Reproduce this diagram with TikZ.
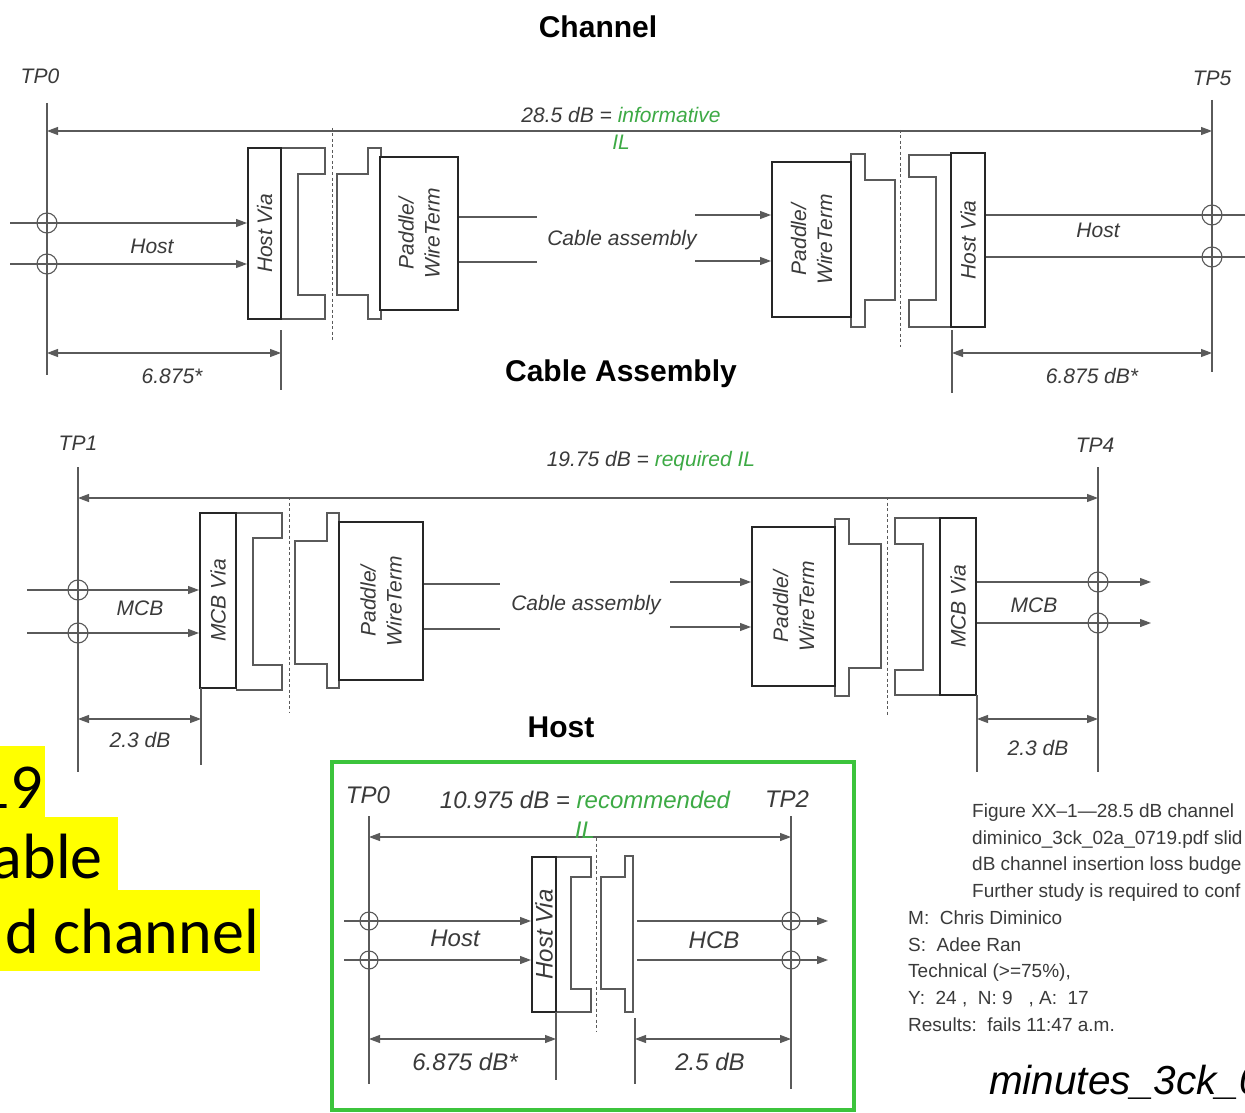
\documentclass[tikz,border=0pt]{standalone}
\usepackage{fontspec}
\setmainfont{Liberation Sans}
\newfontfamily\carlitofont{Carlito}
\usetikzlibrary{arrows.meta}
\definecolor{lc}{HTML}{5A5A5A}
\definecolor{bc}{HTML}{262626}
\definecolor{tc}{HTML}{3A3A3A}
\definecolor{gc}{HTML}{3DAA45}
\definecolor{gbox}{HTML}{3CC43C}
\definecolor{hl}{HTML}{FFFF00}
\begin{document}
\begin{tikzpicture}[x=1pt,y=-1pt,
  ln/.style={draw=lc,line width=1.1pt},
  arr/.style={ln,-{Triangle[length=11pt,width=8pt]}},
  dimarr/.style={ln,{Triangle[length=11pt,width=8pt]}-{Triangle[length=11pt,width=8pt]}},
  dsh/.style={draw=lc,line width=1pt,dash pattern=on 3pt off 2.5pt},
  box/.style={draw=bc,line width=2pt,inner sep=0,fill=white},
  conn/.style={draw=lc,line width=1.1pt},
  lab/.style={font=\fontsize{21}{26}\selectfont\itshape,text=tc,inner sep=0},
  labb/.style={font=\fontsize{24}{28}\selectfont\itshape,text=tc,inner sep=0},
  ttl/.style={font=\fontsize{30}{34}\selectfont\bfseries,text=black,inner sep=0},
  note/.style={font=\fontsize{19}{22}\selectfont,text=tc,inner sep=0,anchor=base west},
  big/.style={font=\carlitofont\fontsize{64}{70}\selectfont,text=black,inner sep=0,anchor=base east},
]
\useasboundingbox (0,0) rectangle (1245,1113);
\fill[white] (0,0) rectangle (1245,1113);

% ================= Section 1: Channel =================
\node[ttl] (t1) at (598,27) {Channel};
\node[lab] (tp0a) at (40,76) {TP0};
\node[lab] (tp5a) at (1212,78) {TP5};
\coordinate (tp0top) at (47,103); \coordinate (tp0bot) at (47,375);
\coordinate (tp5top) at (1212,100); \coordinate (tp5bot) at (1212,372);
\draw[ln] (tp0top) -- (tp0bot);
\draw[ln] (tp5top) -- (tp5bot);
\coordinate (c1l) at (47,131); \coordinate (c1r) at (1212,131);
\draw[dimarr] (c1l) -- (c1r);
\node[lab] (il1) at (621,115) {28.5 dB = \textcolor{gc}{informative}};
\node[lab,text=gc] (il1b) at (621,142) {IL};
\draw[dsh] (332,128) -- (332,342);
\draw[dsh] (900,130) -- (900,347);
% left host via + connectors
\draw[conn] (281,148) -- (325,148) -- (325,174) -- (298,174) -- (298,295) -- (325,295) -- (325,319) -- (281,319);
\draw[conn] (381,157) -- (381,148) -- (368,148) -- (368,174) -- (337,174) -- (337,295) -- (368,295) -- (368,319) -- (381,319) -- (381,310);
\node[box,minimum width=33,minimum height=171] (hv1) at (264.5,233.5) {};
\node[lab,rotate=90] (hv1t) at (hv1) {Host Via};
\node[box,minimum width=78,minimum height=153] (pw1) at (419,233.5) {};
\node[lab,rotate=90,align=center] (pw1t) at (pw1) {Paddle/\\WireTerm};
% host lines left
\coordinate (h1a) at (10,223); \coordinate (h1b) at (10,264);
\draw[arr] (h1a) -- (h1a -| hv1.west);
\draw[arr] (h1b) -- (h1b -| hv1.west);
\draw[ln] (47,223) circle[radius=10];
\draw[ln] (47,264) circle[radius=10];
\node[lab] (host1) at (152,246) {Host};
\coordinate (p1a) at (537,217); \coordinate (p1b) at (537,262);
\draw[ln] (p1a -| pw1.east) -- (p1a);
\draw[ln] (p1b -| pw1.east) -- (p1b);
\node[lab] (ca1) at (622,240) {Cable assembly};
% right side
\draw[conn] (851,162) -- (851,154) -- (865,154) -- (865,180) -- (895,180) -- (895,300) -- (865,300) -- (865,327) -- (851,327) -- (851,317);
\draw[conn] (951,155) -- (909,155) -- (909,177) -- (936,177) -- (936,300) -- (909,300) -- (909,327) -- (951,327);
\node[box,minimum width=79,minimum height=155] (pw2) at (811.5,239.5) {};
\node[lab,rotate=90,align=center] (pw2t) at (pw2) {Paddle/\\WireTerm};
\node[box,minimum width=34,minimum height=174] (hv2) at (968,240) {};
\node[lab,rotate=90] (hv2t) at (hv2) {Host Via};
\coordinate (q1a) at (695,215); \coordinate (q1b) at (695,261);
\draw[arr] (q1a) -- (q1a -| pw2.west);
\draw[arr] (q1b) -- (q1b -| pw2.west);
\coordinate (r1a) at (1245,215); \coordinate (r1b) at (1245,257);
\draw[ln] (r1a -| hv2.east) -- (r1a);
\draw[ln] (r1b -| hv2.east) -- (r1b);
\draw[ln] (1212,215) circle[radius=10];
\draw[ln] (1212,257) circle[radius=10];
\node[lab] (host2) at (1098,230) {Host};
% dimensions
\draw[ln] (281,330) -- (281,390);
\coordinate (d1a) at (47,353); \coordinate (d1b) at (281,353);
\draw[dimarr] (d1a) -- (d1b);
\node[lab] (d1t) at (172,376) {6.875*};
\draw[ln] (952,330) -- (952,393);
\coordinate (d2a) at (952,353); \coordinate (d2b) at (1212,353);
\draw[dimarr] (d2a) -- (d2b);
\node[lab] (d2t) at (1092,376) {6.875 dB*};

% ================= Section 2: Cable Assembly =================
\node[ttl] (t2) at (621,374) {Cable Assembly};
\node[lab] (tp1a) at (78,443) {TP1};
\node[lab] (tp4a) at (1095,445) {TP4};
\draw[ln] (78,467) -- (78,772);
\draw[ln] (1098,467) -- (1098,772);
\coordinate (c2l) at (78,498); \coordinate (c2r) at (1098,498);
\draw[dimarr] (c2l) -- (c2r);
\node[lab] (il2) at (651,461) {19.75 dB = \textcolor{gc}{required IL}};
\draw[dsh] (289,497) -- (289,712);
\draw[dsh] (887,497) -- (887,715);
\draw[conn] (236,513) -- (282,513) -- (282,538) -- (253,538) -- (253,665) -- (282,665) -- (282,690) -- (236,690);
\draw[conn] (339,522) -- (339,513) -- (327,513) -- (327,541) -- (295,541) -- (295,664) -- (327,664) -- (327,688) -- (339,688) -- (339,680);
\node[box,minimum width=36,minimum height=175] (mv1) at (218,600.5) {};
\node[lab,rotate=90] (mv1t) at (mv1) {MCB Via};
\node[box,minimum width=84,minimum height=158] (pw3) at (381,601) {};
\node[lab,rotate=90,align=center] (pw3t) at (pw3) {Paddle/\\WireTerm};
\coordinate (m1a) at (27,590); \coordinate (m1b) at (27,633);
\draw[arr] (m1a) -- (m1a -| mv1.west);
\draw[arr] (m1b) -- (m1b -| mv1.west);
\draw[ln] (78,590) circle[radius=10];
\draw[ln] (78,633) circle[radius=10];
\node[lab] (mcb1) at (140,608) {MCB};
\coordinate (p2a) at (500,584); \coordinate (p2b) at (500,629);
\draw[ln] (p2a -| pw3.east) -- (p2a);
\draw[ln] (p2b -| pw3.east) -- (p2b);
\node[lab] (ca2) at (586,605) {Cable assembly};
\draw[conn] (835,527) -- (835,519) -- (849,519) -- (849,544) -- (881,544) -- (881,668) -- (849,668) -- (849,696) -- (835,696) -- (835,686);
\draw[conn] (940,518) -- (895,518) -- (895,544) -- (923,544) -- (923,670) -- (895,670) -- (895,695) -- (940,695);
\node[box,minimum width=83,minimum height=159] (pw4) at (793.5,606.5) {};
\node[lab,rotate=90,align=center] (pw4t) at (pw4) {Paddle/\\WireTerm};
\node[box,minimum width=36,minimum height=177] (mv2) at (958,606.5) {};
\node[lab,rotate=90] (mv2t) at (mv2) {MCB Via};
\coordinate (q2a) at (670,582); \coordinate (q2b) at (670,627);
\draw[arr] (q2a) -- (q2a -| pw4.west);
\draw[arr] (q2b) -- (q2b -| pw4.west);
\coordinate (r2a) at (1151,582); \coordinate (r2b) at (1151,623);
\draw[arr] (r2a -| mv2.east) -- (r2a);
\draw[arr] (r2b -| mv2.east) -- (r2b);
\draw[ln] (1098,582) circle[radius=10];
\draw[ln] (1098,623) circle[radius=10];
\node[lab] (mcb2) at (1034,605) {MCB};
\draw[ln] (201,688) -- (201,765);
\coordinate (d3a) at (78,719); \coordinate (d3b) at (201,719);
\draw[dimarr] (d3a) -- (d3b);
\node[lab] (d3t) at (140,740) {2.3 dB};
\draw[ln] (977,695) -- (977,772);
\coordinate (d4a) at (977,719); \coordinate (d4b) at (1098,719);
\draw[dimarr] (d4a) -- (d4b);
\node[lab] (d4t) at (1038,748) {2.3 dB};

% ================= Section 3: Host =================
\node[ttl] (t3) at (561,727) {Host};
\draw[draw=gbox,line width=4pt] (332,762) rectangle (854,1110);
\node[labb] (tp0b) at (368,795) {TP0};
\node[labb] (tp2b) at (787,799) {TP2};
\draw[ln] (369,816) -- (369,1084);
\draw[ln] (791,816) -- (791,1089);
\coordinate (c3l) at (369,837); \coordinate (c3r) at (791,837);
\draw[dimarr] (c3l) -- (c3r);
\node[labb] (il3) at (585,800) {10.975 dB = \textcolor{gc}{recommended}};
\node[labb,text=gc] (il3b) at (585,830) {IL};
\draw[dsh] (596,838) -- (596,1031);
\draw[conn] (556,857) -- (591,857) -- (591,877) -- (571,877) -- (571,989) -- (591,989) -- (591,1012) -- (556,1012);
\draw[conn] (601,877) -- (625,877) -- (625,856) -- (633,856) -- (633,1012) -- (625,1012) -- (625,989) -- (601,989) -- cycle;
\node[box,minimum width=24,minimum height=155] (hv3) at (544,934.5) {};
\node[labb,rotate=90] (hv3t) at (hv3) {Host Via};
\coordinate (h3a) at (344,921); \coordinate (h3b) at (344,960);
\draw[arr] (h3a) -- (h3a -| hv3.west);
\draw[arr] (h3b) -- (h3b -| hv3.west);
\draw[ln] (369,921) circle[radius=9];
\draw[ln] (369,960) circle[radius=9];
\node[labb] (host3) at (455,938) {Host};
\coordinate (s3a) at (637,921); \coordinate (s3b) at (637,960);
\coordinate (e3a) at (828,921); \coordinate (e3b) at (828,960);
\draw[arr] (s3a) -- (e3a);
\draw[arr] (s3b) -- (e3b);
\draw[ln] (791,921) circle[radius=9];
\draw[ln] (791,960) circle[radius=9];
\node[labb] (hcb) at (714,940) {HCB};
\draw[ln] (556,1012) -- (556,1080);
\coordinate (d5a) at (369,1039); \coordinate (d5b) at (556,1039);
\draw[dimarr] (d5a) -- (d5b);
\node[labb] (d5t) at (465,1062) {6.875 dB*};
\draw[ln] (635,1018) -- (635,1084);
\coordinate (d6a) at (635,1039); \coordinate (d6b) at (791,1039);
\draw[dimarr] (d6a) -- (d6b);
\node[labb] (d6t) at (710,1062) {2.5 dB};

% ================= notes =================
\node[note] (n1) at (972,817) {Figure XX–1—28.5 dB channel};
\node[note] (n2) at (972,844) {diminico\_3ck\_02a\_0719.pdf slid};
\node[note] (n3) at (972,870) {dB channel insertion loss budge};
\node[note] (n4) at (972,897) {Further study is required to conf};
\node[note] (n5) at (908,924) {M:\ \ Chris Diminico};
\node[note] (n6) at (908,951) {S:\ \ Adee Ran};
\node[note] (n7) at (908,977) {Technical (>=75\%),};
\node[note] (n8) at (908,1004) {Y:\ \ 24 ,\ \ N: 9\ \ \ , A:\ \ 17};
\node[note] (n9) at (908,1031) {Results:\ \ fails 11:47 a.m.};
\node[font=\fontsize{40.5}{44}\selectfont\itshape,text=black,inner sep=0,anchor=base west] (mn) at (989,1094) {minutes\_3ck\_0};

% ================= highlighted text =================
\fill[hl] (0,746) rectangle (45,817);
\fill[hl] (0,817) rectangle (118,890);
\fill[hl] (0,890) rectangle (260,971);
\node[big] (y1) at (43,808) {19};
\node[big] (y2) at (103,878) {able};
\node[big] (y3) at (259,953) {d channel};
\end{tikzpicture}
\end{document}
